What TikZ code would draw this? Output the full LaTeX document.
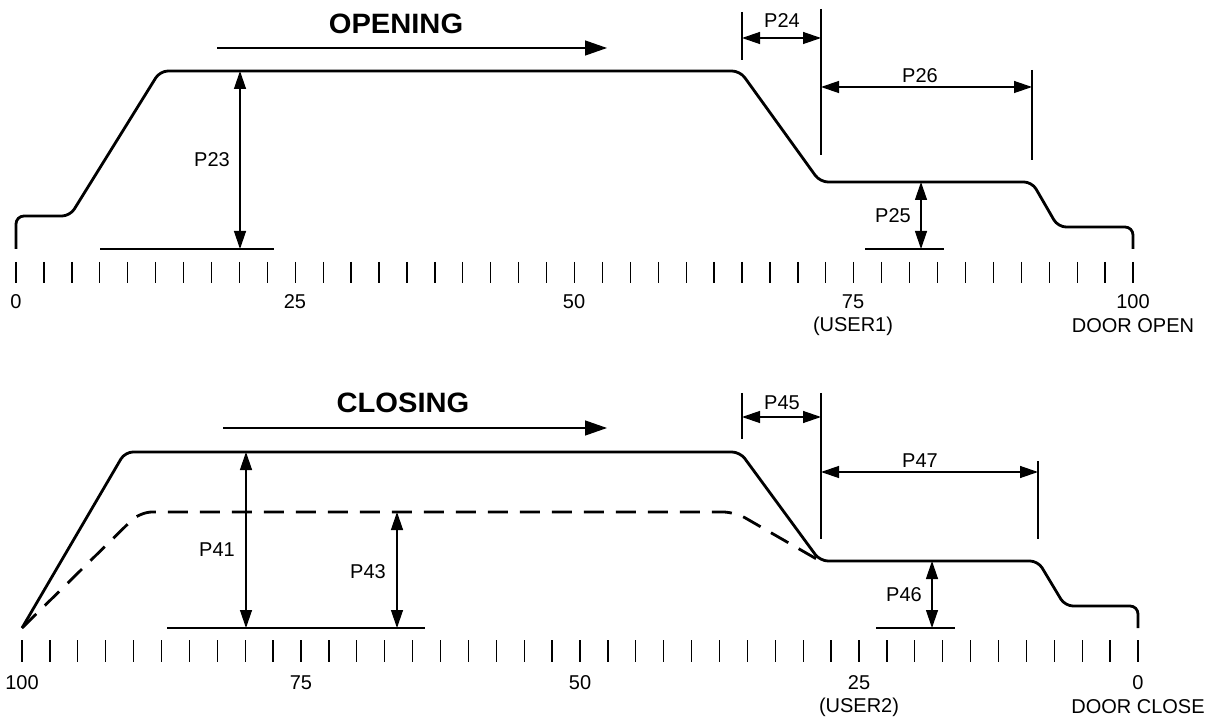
\documentclass[tikz,border=0pt]{standalone}
\usepackage{fontspec}
\setmainfont{Liberation Sans}
\usetikzlibrary{arrows.meta}
\begin{document}
\begin{tikzpicture}[x=1pt,y=-1pt,
  curve/.style={line width=2.8pt, rounded corners=8pt, line join=round},
  dashcurve/.style={curve, rounded corners=12pt, dash pattern=on 20pt off 12pt},
  dim/.style={line width=1.3pt},
  dimarrow/.style={line width=1.3pt, {Triangle[length=18pt,width=12pt]}-{Triangle[length=18pt,width=12pt]}},
  titlearrow/.style={line width=1.3pt, -{Triangle[length=22pt,width=15pt]}},
  lbl/.style={font=\fontsize{20}{22}\selectfont, inner sep=0pt},
  ttl/.style={font=\fontsize{28}{30}\selectfont\bfseries, inner sep=0pt, xscale=1.04},
  tickmark/.style={line width=1.3pt}]
\useasboundingbox (0,0) rectangle (1211,719);

% ---------------- OPENING ----------------
\foreach \i in {0,...,40} \draw[tickmark] ({16+\i*27.925},262) -- ++(0,21);
\node[lbl] (o0) at (16,302) {0};
\node[lbl] (o25) at (295,302) {25};
\node[lbl] (o50) at (574,302) {50};
\node[lbl] (o75) at (853,302) {75};
\node[lbl] (ou1) at (853,326) {(USER1)};
\node[lbl] (o100) at (1133,302) {100};
\node[lbl] (odo) at (1133,326) {DOOR OPEN};

\draw[curve] (16,249) -- (16,216) -- (70,216) -- (160,71) -- (740,71) -- (820,182) -- (1032,182) -- (1058,227) -- (1133,227) -- (1133,249);

\node[ttl] (open) at (396,24) {OPENING};
\coordinate (oa1) at (217,48); \coordinate (oa2) at (607,48);
\draw[titlearrow] (oa1) -- (oa2);

% P23
\draw[dim] (100,249) -- (274,249);
\coordinate (p23a) at (240,71); \coordinate (p23b) at (240,249);
\draw[dimarrow] (p23a) -- (p23b);
\node[lbl] (p23) at (212,160) {P23};
% P25
\draw[dim] (865,249) -- (944,249);
\coordinate (p25a) at (921,182); \coordinate (p25b) at (921,249);
\draw[dimarrow] (p25a) -- (p25b);
\node[lbl] (p25) at (893,216) {P25};
% P24
\draw[dim] (742,12) -- (742,60);
\draw[dim] (821,9) -- (821,155);
\coordinate (p24a) at (742,38); \coordinate (p24b) at (821,38);
\draw[dimarrow] (p24a) -- (p24b);
\node[lbl] (p24) at (782,21) {P24};
% P26
\draw[dim] (1032,70) -- (1032,160);
\coordinate (p26a) at (821,87); \coordinate (p26b) at (1032,87);
\draw[dimarrow] (p26a) -- (p26b);
\node[lbl] (p26) at (920,76) {P26};

% ---------------- CLOSING ----------------
\foreach \i in {0,...,40} \draw[tickmark] ({22+\i*27.9},640) -- ++(0,22);
\node[lbl] (c100) at (22,683) {100};
\node[lbl] (c75) at (301,683) {75};
\node[lbl] (c50) at (580,683) {50};
\node[lbl] (c25) at (859,683) {25};
\node[lbl] (cu2) at (859,707) {(USER2)};
\node[lbl] (c0) at (1138,683) {0};
\node[lbl] (cdc) at (1138,707) {DOOR CLOSE};

\draw[curve] (22,628) -- (125,452) -- (740,452) -- (820,561) -- (1038,561) -- (1065,606) -- (1138,606) -- (1138,628);
\draw[dashcurve] (22,628) -- (140,512) -- (735,512) -- (820,561);

\node[ttl] (close) at (403,403) {CLOSING};
\coordinate (ca1) at (223,428); \coordinate (ca2) at (607,428);
\draw[titlearrow] (ca1) -- (ca2);

% P41
\draw[dim] (167,628) -- (425,628);
\coordinate (p41a) at (246,452); \coordinate (p41b) at (246,628);
\draw[dimarrow] (p41a) -- (p41b);
\node[lbl] (p41) at (217,550) {P41};
% P43
\coordinate (p43a) at (397,512); \coordinate (p43b) at (397,628);
\draw[dimarrow] (p43a) -- (p43b);
\node[lbl] (p43) at (368,572) {P43};
% P46
\draw[dim] (876,628) -- (955,628);
\coordinate (p46a) at (932,561); \coordinate (p46b) at (932,628);
\draw[dimarrow] (p46a) -- (p46b);
\node[lbl] (p46) at (904,595) {P46};
% P45
\draw[dim] (742,393) -- (742,439);
\draw[dim] (821,393) -- (821,539);
\coordinate (p45a) at (742,417); \coordinate (p45b) at (821,417);
\draw[dimarrow] (p45a) -- (p45b);
\node[lbl] (p45) at (782,403) {P45};
% P47
\draw[dim] (1038,461) -- (1038,539);
\coordinate (p47a) at (821,472); \coordinate (p47b) at (1038,472);
\draw[dimarrow] (p47a) -- (p47b);
\node[lbl] (p47) at (920,461) {P47};
\end{tikzpicture}
\end{document}
